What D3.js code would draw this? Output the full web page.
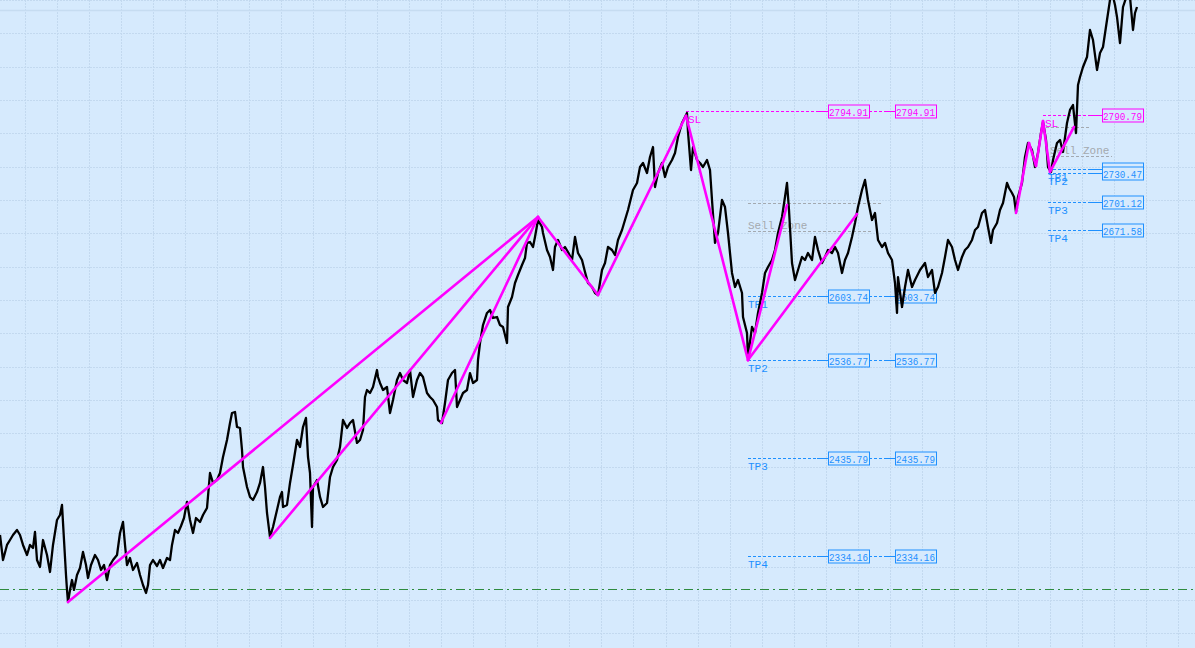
<!DOCTYPE html>
<html><head><meta charset="utf-8">
<script src="https://cdn.jsdelivr.net/npm/d3@7/dist/d3.min.js"></script>
<style>html,body{margin:0;padding:0;background:#d6eafd;overflow:hidden}</style>
</head><body>
<svg id="chart" width="1195" height="648"></svg>
<script>
// ---------- DATA ----------
// price path: [bar index, price]
const priceSeries = [[0,2355.9],[3,2330.0],[7,2345.6],[10,2350.7],[13,2355.9],[17,2361.1],[20,2355.9],[23,2345.6],[27,2335.2],[30,2345.6],[33,2342.4],[35,2359.0],[37,2330.0],[40,2322.8],[43,2350.7],[47,2335.2],[50,2317.6],[53,2345.6],[57,2371.4],[60,2376.6],[62,2387.0],[64,2350.7],[66,2314.5],[67,2299.0],[68,2286.5],[70,2299.0],[72,2309.3],[74,2299.0],[77,2314.5],[80,2321.7],[83,2338.3],[86,2324.8],[88,2311.4],[91,2324.8],[95,2335.2],[98,2330.0],[101,2319.7],[104,2324.8],[107,2309.3],[110,2324.8],[113,2330.0],[117,2335.2],[120,2358.0],[123,2369.4],[125,2345.6],[127,2324.8],[130,2332.1],[133,2319.7],[137,2326.9],[140,2314.5],[143,2304.1],[146,2295.9],[148,2304.1],[150,2324.8],[153,2330.0],[157,2323.8],[160,2330.0],[163,2321.7],[167,2332.1],[170,2330.0],[172,2345.6],[175,2361.1],[178,2358.0],[181,2365.2],[184,2373.5],[187,2390.1],[190,2371.4],[193,2358.0],[196,2373.5],[200,2369.4],[203,2376.6],[207,2383.9],[210,2420.1],[213,2409.8],[217,2412.9],[220,2420.1],[223,2436.7],[227,2454.3],[230,2471.9],[232,2482.2],[235,2483.3],[237,2467.7],[240,2466.7],[242,2443.9],[243,2426.3],[247,2405.6],[250,2395.3],[253,2392.1],[257,2400.4],[260,2409.8],[263,2426.3],[265,2405.6],[267,2378.7],[270,2353.8],[273,2364.2],[277,2381.8],[280,2395.3],[282,2400.4],[283,2384.9],[287,2387.0],[290,2409.8],[293,2428.4],[297,2454.3],[300,2447.0],[303,2467.7],[306,2477.1],[308,2436.7],[310,2420.1],[312,2364.2],[313,2405.6],[317,2412.9],[320,2395.3],[323,2384.9],[327,2389.0],[330,2416.0],[333,2426.3],[337,2433.6],[340,2447.0],[343,2475.0],[347,2466.7],[350,2471.9],[353,2475.0],[357,2451.2],[360,2454.3],[363,2464.6],[365,2498.8],[367,2506.0],[370,2502.9],[373,2509.1],[377,2526.7],[378,2519.5],[380,2513.3],[383,2506.0],[387,2509.1],[390,2482.2],[393,2495.7],[397,2516.4],[400,2523.6],[403,2516.4],[407,2513.3],[410,2526.7],[413,2498.8],[417,2516.4],[420,2523.6],[423,2519.5],[427,2502.9],[430,2498.8],[433,2495.7],[437,2488.4],[438,2475.0],[442,2471.9],[445,2492.6],[448,2516.4],[452,2523.6],[455,2526.7],[457,2488.4],[460,2495.7],[463,2502.9],[467,2506.0],[470,2523.6],[473,2513.3],[477,2516.4],[478,2537.1],[480,2554.7],[483,2573.3],[487,2585.8],[490,2588.9],[493,2580.6],[497,2581.6],[500,2573.3],[503,2571.3],[507,2554.7],[508,2592.0],[512,2602.3],[515,2616.8],[518,2625.1],[522,2635.5],[525,2642.7],[527,2658.3],[530,2659.3],[533,2654.1],[535,2664.5],[538,2682.1],[542,2674.8],[543,2668.6],[547,2651.0],[550,2643.8],[553,2630.3],[555,2654.1],[558,2661.4],[562,2651.0],[565,2654.1],[568,2648.9],[572,2640.6],[575,2664.5],[578,2647.9],[582,2640.6],[585,2628.2],[588,2616.8],[592,2612.7],[595,2606.5],[598,2604.4],[602,2630.3],[605,2637.5],[608,2654.1],[612,2651.0],[615,2645.8],[618,2661.4],[622,2671.7],[625,2682.1],[628,2692.4],[633,2713.1],[637,2720.4],[640,2736.9],[643,2741.1],[647,2730.7],[650,2747.3],[653,2757.6],[655,2716.2],[658,2730.7],[662,2741.1],[665,2726.6],[668,2736.9],[672,2744.2],[675,2751.4],[678,2768.0],[682,2782.5],[685,2788.7],[687,2792.8],[688,2773.2],[691,2733.8],[693,2757.6],[697,2744.2],[700,2741.1],[703,2736.9],[707,2744.2],[710,2733.8],[712,2702.8],[715,2658.3],[718,2668.6],[722,2702.8],[725,2695.5],[728,2668.6],[732,2627.2],[735,2612.7],[738,2619.9],[742,2606.5],[743,2581.6],[747,2565.1],[748,2540.2],[752,2571.3],[755,2565.1],[758,2585.8],[762,2606.5],[765,2627.2],[768,2633.4],[772,2640.6],[775,2651.0],[778,2668.6],[782,2685.2],[785,2705.9],[787,2720.4],[789,2692.4],[792,2637.5],[795,2619.9],[798,2630.3],[802,2643.8],[805,2640.6],[808,2647.9],[812,2640.6],[815,2664.5],[818,2651.0],[822,2637.5],[825,2643.8],[828,2651.0],[832,2647.9],[835,2654.1],[838,2647.9],[842,2627.2],[845,2640.6],[848,2647.9],[852,2664.5],[855,2679.0],[858,2695.5],[862,2713.1],[865,2723.5],[868,2702.8],[872,2682.1],[875,2689.3],[878,2661.4],[882,2654.1],[885,2658.3],[888,2647.9],[892,2640.6],[895,2616.8],[897,2585.8],[898,2623.0],[902,2592.0],[905,2612.7],[908,2630.3],[912,2612.7],[915,2619.9],[920,2630.3],[925,2637.5],[928,2623.0],[932,2630.3],[935,2606.5],[938,2612.7],[942,2627.2],[945,2643.8],[948,2661.4],[952,2654.1],[955,2640.6],[958,2630.3],[962,2643.8],[965,2651.0],[968,2654.1],[972,2661.4],[975,2671.7],[978,2674.8],[982,2689.3],[985,2692.4],[988,2674.8],[991,2658.3],[993,2671.7],[997,2679.0],[1000,2692.4],[1003,2699.7],[1007,2720.4],[1009,2715.2],[1012,2710.0],[1014,2705.9],[1016,2690.3],[1018,2705.9],[1022,2720.4],[1025,2747.3],[1028,2761.8],[1032,2754.5],[1035,2736.9],[1038,2751.4],[1041,2772.1],[1043,2783.5],[1046,2764.9],[1048,2736.9],[1051,2731.8],[1053,2744.2],[1057,2761.8],[1060,2764.9],[1063,2752.5],[1067,2782.5],[1070,2796.0],[1073,2801.1],[1076,2772.1],[1078,2821.8],[1080,2830.1],[1083,2840.5],[1087,2850.8],[1090,2878.8],[1093,2868.4],[1097,2837.4],[1100,2855.0],[1103,2861.2],[1107,2889.1],[1110,2909.9],[1112,2918.1],[1115,2904.7],[1117,2892.3],[1120,2865.3],[1123,2902.6],[1127,2915.0],[1130,2913.0],[1133,2878.8],[1135,2896.4],[1137,2902.6]];

// zigzag segments: [fromBar, fromPrice, toBar, toPrice]
const zigzagSegments = [
  [68,2286.5,538,2685.2],[270,2352.8,538,2685.2],[441,2471.9,538,2685.2],
  [538,2685.2,598,2604.4],[598,2604.4,686,2790.0],[686,2790.0,748,2537.0],
  [748,2537.0,787,2697.6],[748,2537.0,857,2688.3],
  [1016,2689.3,1029,2761.8],[1029,2761.8,1036,2738.0],[1036,2738.0,1043,2784.6],
  [1043,2784.6,1050,2731.8],[1050,2731.8,1074,2778.4]
];

// trade levels
const levelNames  = ["SL","TP1","TP2","TP3","TP4","SL","TP1","TP2","TP3","TP4"];
const levelPrices = [2794.91,2603.74,2536.77,2435.79,2334.16,2790.79,2734.85,2730.47,2701.12,2671.58];
const levelStart  = [686,748,748,748,748,1043,1048,1048,1048,1048];
const levelLabelX = [688,748,748,748,748,1045,1048,1048,1048,1048];
const levelBoxes  = [[828,895],[828,895],[828,895],[828,895],[828,895],[1102],[1102],[1102],[1102],[1102]];

// sell zones
const zoneNames   = ["Sell Zone","Sell Zone"];
const zoneTop     = [2699.7,2778.4];
const zoneBottom  = [2670.7,2748.3];
const zoneStart   = [748,1046];
const zoneTopEnd  = [883,1090];
const zoneBotEnd  = [872,1112];
const zoneTextX   = [748,1050];

const baseLevel = 2300.0;

// ---------- CHART ----------
const W = 1195, H = 648;
const svg = d3.select("#chart");
const x = d3.scaleLinear().domain([0,1195]).range([0,W]);
const y = d3.scaleLinear().domain([2238.9,2909.85]).range([H,0]);

svg.append("rect").attr("width",W).attr("height",H).attr("fill","#d6eafd");

// grid
const grid = svg.append("g");
const vGrid = d3.range(24.5, 1195, 32.05);
const hGrid = d3.range(2909.85, 2238, -34.51);
grid.selectAll(".v").data(vGrid).join("line")
  .attr("x1",d=>Math.round(x(d))+0.5).attr("x2",d=>Math.round(x(d))+0.5)
  .attr("y1",0).attr("y2",H)
  .attr("stroke","#c3d9ef").attr("stroke-dasharray","2,1");
grid.selectAll(".h").data(hGrid).join("line")
  .attr("y1",d=>Math.round(y(d))+0.5).attr("y2",d=>Math.round(y(d))+0.5)
  .attr("x1",0).attr("x2",W)
  .attr("stroke","#c3d9ef").attr("stroke-dasharray","2,1");
grid.append("line").attr("x1",0).attr("x2",W)
  .attr("y1",Math.round(y(2899.5))+0.5).attr("y2",Math.round(y(2899.5))+0.5)
  .attr("stroke","#c6dcf1").attr("stroke-width",1.5);

// base level dash-dot
svg.append("line").attr("x1",0).attr("x2",W)
  .attr("y1",Math.round(y(baseLevel))+0.5).attr("y2",Math.round(y(baseLevel))+0.5)
  .attr("stroke","#2e8b3e").attr("stroke-dasharray","9,4,2,4");

const mono = "'Liberation Mono','DejaVu Sans Mono',monospace";

// sell zones
const zg = svg.append("g");
zoneNames.forEach((n,i)=>{
  zg.append("line").attr("x1",x(zoneStart[i])).attr("x2",x(zoneTopEnd[i]))
    .attr("y1",Math.round(y(zoneTop[i]))+0.5).attr("y2",Math.round(y(zoneTop[i]))+0.5)
    .attr("stroke","#a3a9b0").attr("stroke-dasharray","3,2");
  zg.append("line").attr("x1",x(zoneStart[i])).attr("x2",x(zoneBotEnd[i]))
    .attr("y1",Math.round(y(zoneBottom[i]))+0.5).attr("y2",Math.round(y(zoneBottom[i]))+0.5)
    .attr("stroke","#a3a9b0").attr("stroke-dasharray","3,2");
  zg.append("text").attr("x",x(zoneTextX[i])).attr("y",y(zoneBottom[i])-2)
    .attr("font-family",mono).attr("font-size",11).attr("fill","#a4a9ae").text(n);
});

// levels
const lg = svg.append("g");
levelNames.forEach((n,i)=>{
  const col = n==="SL" ? "#ff00ff" : "#1e90ff";
  const py = Math.round(y(levelPrices[i]))+0.5;
  let cur = levelStart[i];
  levelBoxes[i].forEach(b=>{
    lg.append("line").attr("x1",x(cur)).attr("x2",x(b-11)).attr("y1",py).attr("y2",py)
      .attr("stroke",col).attr("stroke-dasharray","3,2");
    lg.append("line").attr("x1",x(b-11)).attr("x2",x(b)).attr("y1",py).attr("y2",py)
      .attr("stroke",col);
    lg.append("rect").attr("x",Math.round(x(b))+0.5).attr("y",py-6.5)
      .attr("width",x(b+41)-x(b)).attr("height",13)
      .attr("fill","#d6eafd").attr("stroke",col);
    lg.append("text").attr("x",x(b)+20.5).attr("y",py+4)
      .attr("text-anchor","middle").attr("font-family",mono).attr("font-size",10.5)
      .attr("textLength",39).attr("lengthAdjust","spacingAndGlyphs")
      .attr("fill",col).text(levelPrices[i].toFixed(2));
    cur = b+41;
  });
  lg.append("text").attr("x",x(levelLabelX[i])).attr("y",py+11.5)
    .attr("font-family",mono).attr("font-size",11).attr("fill",col).text(n);
});

// price line
svg.append("path").datum(priceSeries)
  .attr("d",d3.line().x(d=>x(d[0])).y(d=>y(d[1])))
  .attr("fill","none").attr("stroke","#000").attr("stroke-width",2.3)
  .attr("stroke-linejoin","round");

// zigzag
svg.append("g").selectAll("line").data(zigzagSegments).join("line")
  .attr("x1",d=>x(d[0])).attr("y1",d=>y(d[1]))
  .attr("x2",d=>x(d[2])).attr("y2",d=>y(d[3]))
  .attr("stroke","#ff00ff").attr("stroke-width",2.6).attr("stroke-linecap","round");
</script>
</body></html>
